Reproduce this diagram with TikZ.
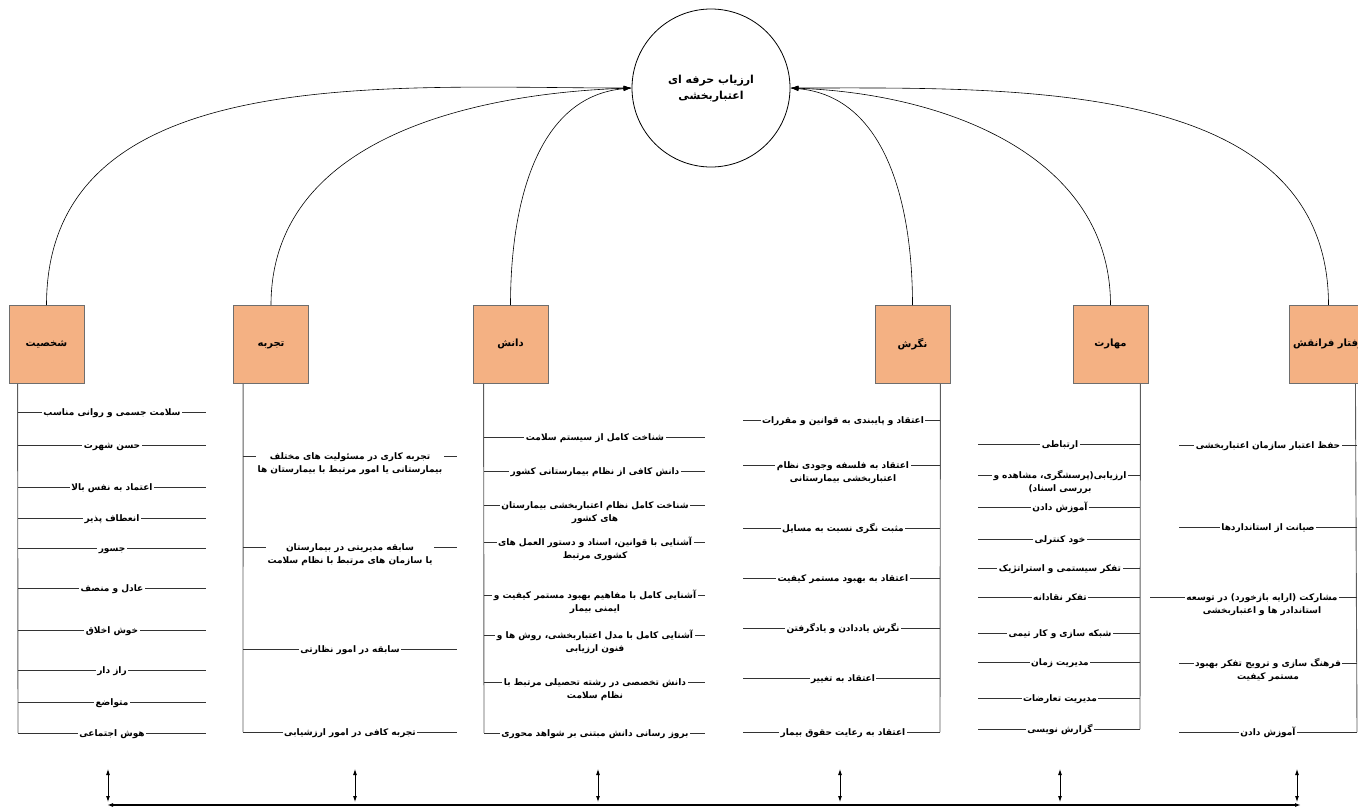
\documentclass[tikz,border=0pt]{standalone}
\usepackage{fontspec}
\usetikzlibrary{arrows.meta}
\TeXXeTstate=1
\newfontfamily\arabicfont[Script=Arabic]{DejaVu Sans}
\newcommand\fa[1]{\beginR\strut #1\endR}
\definecolor{boxfill}{HTML}{F4B183}
\definecolor{boxedge}{HTML}{6E6E6E}
\definecolor{ln}{HTML}{333333}
\newcommand\itm[6]{%
  \coordinate (#1a) at (#2,#4);
  \coordinate (#1b) at (#3,#4);
  \draw[link] (#1a) -- (#1b);
  \node[item, anchor=north] (#1) at (#5,#4-5.5) {#6};}
\begin{document}
\begin{tikzpicture}[x=1pt,y=-1pt,
  font=\arabicfont\bfseries\fontsize{9}{12.5}\selectfont,
  cat/.style={draw=boxedge, fill=boxfill, minimum width=75pt, minimum height=78pt,
    font=\arabicfont\bfseries\fontsize{10}{12}\selectfont, line width=0.8pt},
  item/.style={fill=white, inner xsep=1.5pt, inner ysep=0.5pt, align=center},
  link/.style={draw=ln, line width=0.7pt},
  vlink/.style={draw=ln!80, line width=0.9pt},
  arr/.style={-{Latex[length=8pt,width=5pt]}, draw=black, line width=0.6pt},
  darr/.style={{Latex[length=6pt,width=4pt]}-{Latex[length=6pt,width=4pt]}, draw=black, line width=0.8pt}]
\useasboundingbox (0,0) rectangle (1358,811);
\clip (0,0) rectangle (1358,811);

% goal
\node[circle, draw, line width=0.8pt, minimum size=158pt, align=center,
  font=\arabicfont\bfseries\fontsize{11}{16}\selectfont] (goal) at (711,88)
  {\fa{ارزیاب حرفه ای}\\\fa{اعتباربخشی}};

% categories
\node[cat] (c1) at (46.5,344.5) {\fa{شخصیت}};
\node[cat] (c2) at (271,344.5) {\fa{تجربه}};
\node[cat] (c3) at (510.5,344.5) {\fa{دانش}};
\node[cat] (c4) at (912.5,344.5) {\fa{نگرش}};
\node[cat] (c5) at (1110.5,344.5) {\fa{مهارت}};
\node[cat] (c6) at (1328.5,344.5) {\fa{رفتار فرانقش}};

% curves to goal
\draw[arr] (c1.north) to[out=90,in=180] (goal.west);
\draw[arr] (c2.north) to[out=90,in=182] (goal.west);
\draw[arr] (c3.north) to[out=90,in=185] (goal.west);
\draw[arr] (c4.north) to[out=90,in=-5] (goal.east);
\draw[arr] (c5.north) to[out=90,in=-2] (goal.east);
\draw[arr] (c6.north) to[out=90,in=0] (goal.east);

% column 1
\coordinate (v1) at (18,733);
\draw[vlink] ([xshift=9pt]c1.south west) -- (v1);
\itm{a1}{18}{206}{412}{112}{\fa{سلامت جسمی و روانی مناسب}}
\itm{a2}{18}{206}{445}{112}{\fa{حسن شهرت}}
\itm{a3}{18}{206}{487}{112}{\fa{اعتماد به نفس بالا}}
\itm{a4}{18}{206}{518}{112}{\fa{انعطاف پذیر}}
\itm{a5}{18}{206}{548}{112}{\fa{جسور}}
\itm{a6}{18}{206}{588}{112}{\fa{عادل و منصف}}
\itm{a7}{18}{206}{630}{112}{\fa{خوش اخلاق}}
\itm{a8}{18}{206}{670}{112}{\fa{راز دار}}
\itm{a9}{18}{206}{702}{112}{\fa{متواضع}}
\itm{a10}{18}{206}{733}{112}{\fa{هوش اجتماعی}}

% column 2
\coordinate (v2) at (243,732);
\draw[vlink] ([xshift=10pt]c2.south west) -- (v2);
\itm{b1}{243}{457}{456}{350}{\fa{تجربه کاری در مسئولیت های مختلف}\\\fa{بیمارستانی یا امور مرتبط با بیمارستان ها}}
\itm{b2}{243}{457}{547}{350}{\fa{سابقه مدیریتی در بیمارستان}\\\fa{یا سازمان های مرتبط با نظام سلامت}}
\itm{b3}{243}{457}{649}{350}{\fa{سابقه در امور نظارتی}}
\itm{b4}{243}{457}{732}{350}{\fa{تجربه کافی در امور ارزشیابی}}

% column 3
\coordinate (v3) at (484,733);
\draw[vlink] ([xshift=11pt]c3.south west) -- (v3);
\itm{d1}{484}{705}{437}{595}{\fa{شناخت کامل از سیستم سلامت}}
\itm{d2}{484}{705}{471}{595}{\fa{دانش کافی از نظام بیمارستانی کشور}}
\itm{d3}{484}{705}{505}{595}{\fa{شناخت کامل نظام اعتباربخشی بیمارستان}\\\fa{های کشور}}
\itm{d4}{484}{705}{542}{595}{\fa{آشنایی با قوانین، اسناد و دستور العمل های}\\\fa{کشوری مرتبط}}
\itm{d5}{484}{705}{595}{595}{\fa{آشنایی کامل با مفاهیم بهبود مستمر کیفیت و}\\\fa{ایمنی بیمار}}
\itm{d6}{484}{705}{635}{595}{\fa{آشنایی کامل با مدل اعتباربخشی، روش ها و}\\\fa{فنون ارزیابی}}
\itm{d7}{484}{705}{682}{595}{\fa{دانش تخصصی در رشته تحصیلی مرتبط با}\\\fa{نظام سلامت}}
\itm{d8}{484}{705}{733}{595}{\fa{بروز رسانی دانش مبتنی بر شواهد محوری}}

% column 4
\coordinate (v4) at (940,732);
\draw[vlink] ([xshift=-10pt]c4.south east) -- (v4);
\itm{e1}{940}{743}{420}{843}{\fa{اعتقاد و پایبندی به قوانین و مقررات}}
\itm{e2}{940}{743}{465}{843}{\fa{اعتقاد به فلسفه وجودی نظام}\\\fa{اعتباربخشی بیمارستانی}}
\itm{e3}{940}{743}{528}{843}{\fa{مثبت نگری نسبت به مسایل}}
\itm{e4}{940}{743}{578}{843}{\fa{اعتقاد به بهبود مستمر کیفیت}}
\itm{e5}{940}{743}{628}{843}{\fa{نگرش یاددادن و یادگرفتن}}
\itm{e6}{940}{743}{678}{843}{\fa{اعتقاد به تغییر}}
\itm{e7}{940}{743}{732}{843}{\fa{اعتقاد به رعایت حقوق بیمار}}

% column 5
\coordinate (v5) at (1140,729);
\draw[vlink] ([xshift=-8pt]c5.south east) -- (v5);
\itm{f1}{1140}{978}{444}{1060}{\fa{ارتباطی}}
\itm{f2}{1140}{978}{475}{1060}{\fa{ارزیابی(پرسشگری، مشاهده و}\\\fa{بررسی اسناد)}}
\itm{f3}{1140}{978}{507}{1060}{\fa{آموزش دادن}}
\itm{f4}{1140}{978}{539}{1060}{\fa{خود کنترلی}}
\itm{f5}{1140}{978}{568}{1060}{\fa{تفکر سیستمی و استراتژیک}}
\itm{f6}{1140}{978}{597}{1060}{\fa{تفکر نقادانه}}
\itm{f7}{1140}{978}{633}{1060}{\fa{شبکه سازی و کار تیمی}}
\itm{f8}{1140}{978}{662}{1060}{\fa{مدیریت زمان}}
\itm{f9}{1140}{978}{698}{1060}{\fa{مدیریت تعارضات}}
\itm{f10}{1140}{978}{729}{1060}{\fa{گزارش نویسی}}

% column 6
\coordinate (v6) at (1357,732);
\draw[vlink] ([xshift=66pt]c6.south west) -- (v6);
\itm{g1}{1357}{1179}{445}{1268}{\fa{حفظ اعتبار سازمان اعتباربخشی}}
\itm{g2}{1357}{1179}{527}{1268}{\fa{صیانت از استانداردها}}
\itm{g3}{1357}{1150}{597}{1262}{\fa{مشارکت (ارایه بازخورد) در توسعه}\\\fa{استاندادر ها و اعتباربخشی}}
\itm{g4}{1357}{1179}{663}{1268}{\fa{فرهنگ سازی و ترویج تفکر بهبود}\\\fa{مستمر کیفیت}}
\itm{g5}{1357}{1179}{732}{1268}{\fa{آموزش دادن}}

% bottom arrows
\coordinate (hl) at (107,805);
\coordinate (hr) at (1301,805);
\draw[darr, line width=1.2pt] (hl) -- (hr);
\foreach \x/\n in {108/1,355/2,598/3,840/4,1060/5,1297/6}{
  \coordinate (t\n) at (\x,769);
  \coordinate (b\n) at (\x,802);
  \draw[darr] (t\n) -- (b\n);
}
\end{tikzpicture}
\end{document}
